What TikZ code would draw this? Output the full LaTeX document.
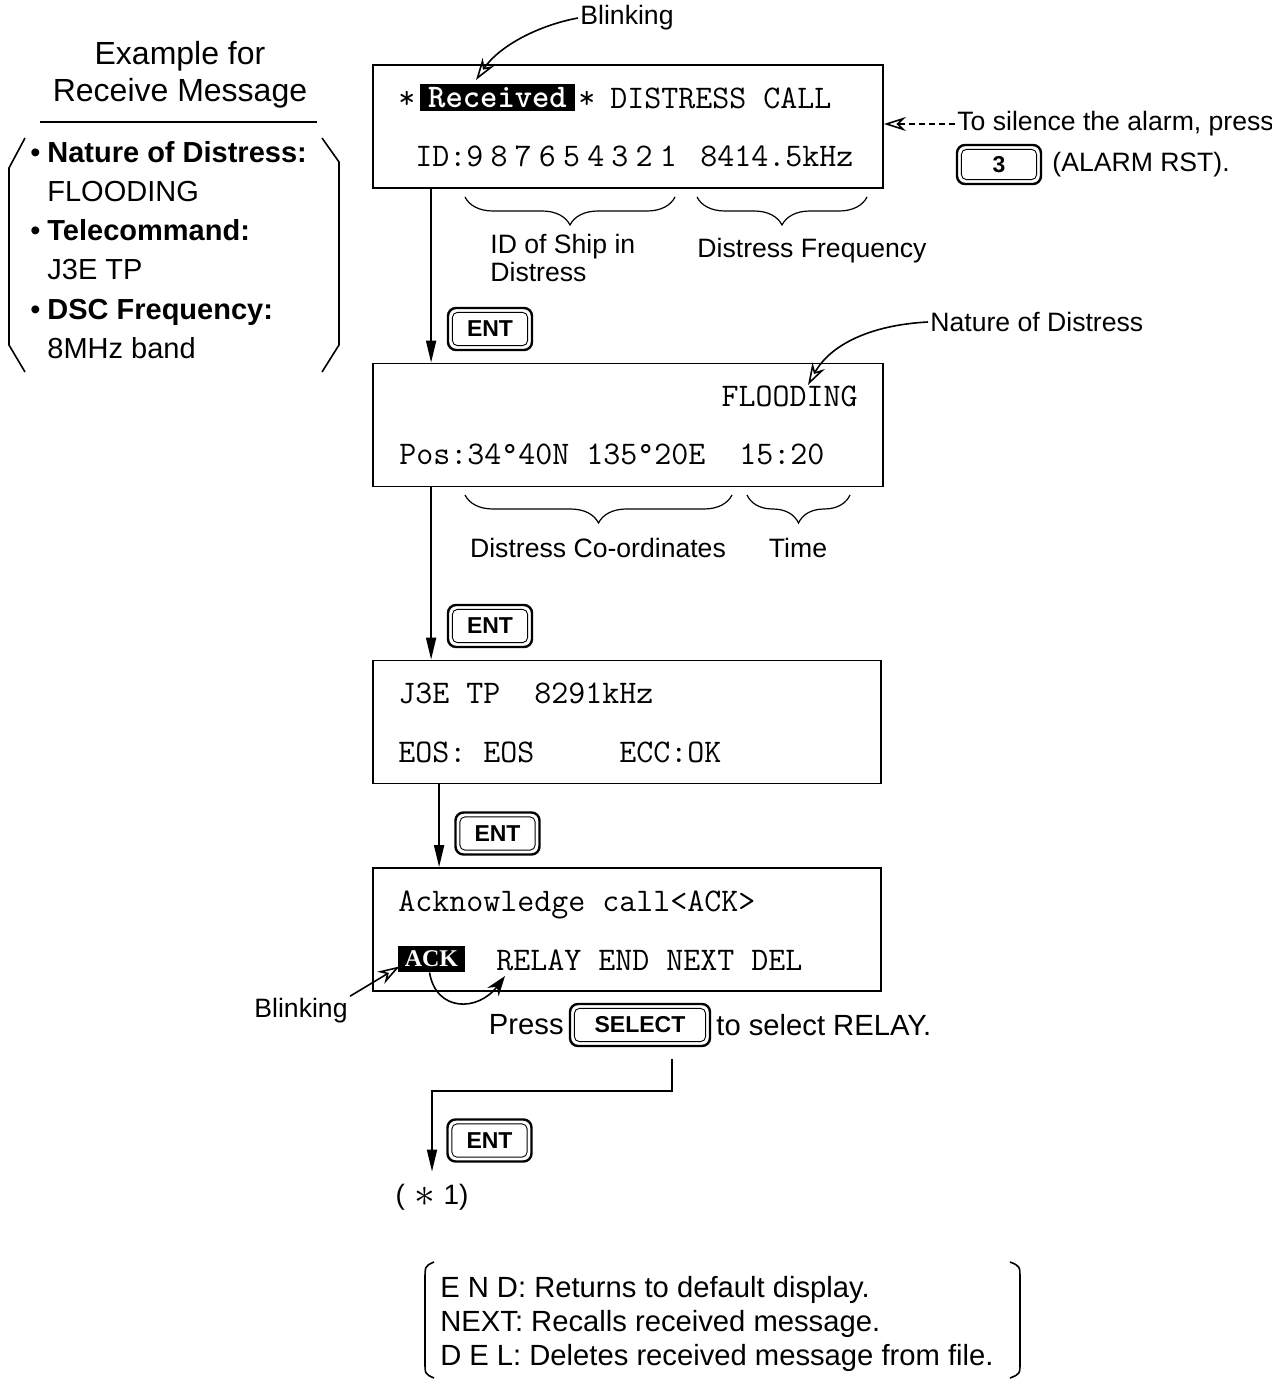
\documentclass[tikz,border=0pt]{standalone}
\usepackage{fontspec}
\setmainfont{Liberation Sans}
\newfontfamily\serifbf{Liberation Serif}
\newfontfamily\lcdbold{lmmonolt10-bold.otf}
\usepackage{tikz}
\usetikzlibrary{arrows.meta,decorations.pathreplacing}
\newcommand{\dgap}{\hspace{3.6pt}}
\newcommand{\lgap}{\hspace{4pt}}

\begin{document}
\begin{tikzpicture}
        [x=0.5pt,y=-0.5pt]
        \tikzstyle{lcd}=[draw, line width=0.9pt, minimum width=255pt,
        minimum height=61.5pt, inner sep=0pt]
        \tikzstyle{lcdtxt}=[inner sep=0pt, anchor=base west,
        font=\fontsize{16.5}{18}\ttfamily]
        \tikzstyle{hilite}=[fill=black, text=white, inner sep=0pt]
        \tikzstyle{key}=[draw, line width=1.2pt, rounded corners=4pt,
        minimum width=42pt, minimum height=21pt, inner sep=0pt,
        font=\fontsize{11.5}{12}\bfseries,
        path picture={\draw[line width=0.45pt, rounded corners=2.5pt]
          ([shift={(2.2pt,2.2pt)}]path picture bounding box.south west) rectangle
          ([shift={(-2.2pt,-2.2pt)}]path picture bounding box.north east);}]
        \tikzstyle{note}=[inner sep=1pt, font=\fontsize{13.3}{14}\selectfont]
        \tikzstyle{flow}=[line width=0.9pt, -{Triangle[length=11pt,width=5pt]}]
        \tikzstyle{point}=[line width=0.8pt, -{Stealth[open,length=11pt,width=7pt]}]
        \tikzstyle{cbrace}=[line width=0.6pt, decorate,
        decoration={brace, mirror, amplitude=14pt}]

        \useasboundingbox (0,0) rectangle (1272,1379);

        %-----example box
        \node[font=\fontsize{16}{18.5}\selectfont, align=center] (title) at (180,75)
          {Example for\\Receive Message};
        \draw[line width=1pt] (40,122) -- (317,122);
        \node[anchor=west, align=left, inner sep=0pt,
          font=\fontsize{14.5}{19.6}\selectfont] (items) at (30,250)
          {\makebox[8.5pt][l]{\textbullet}\textbf{Nature of Distress:}\\
           \hspace{8.5pt}FLOODING\\
           \makebox[8.5pt][l]{\textbullet}\textbf{Telecommand:}\\
           \hspace{8.5pt}J3E TP\\
           \makebox[8.5pt][l]{\textbullet}\textbf{DSC Frequency:}\\
           \hspace{8.5pt}8MHz band};
        \draw[line width=0.8pt] (25,138) -- (9,168) -- (9,345) -- (25,372);
        \draw[line width=0.8pt] (322,138) -- (339,162) -- (339,345) -- (322,372);

        %-----displays
        \node[lcd] (d1) at (628,126.5) {};
        \node[lcd] (d2) at (628,425) {};
        \node[lcd, minimum width=254pt] (d3) at (627,722) {};
        \node[lcd, minimum width=254pt] (d4) at (627,929.5) {};

        \node[lcdtxt] (st1) at (398,109) {*};
        \node[hilite, minimum width=77.5pt, minimum height=13.5pt,
          font=\fontsize{16.5}{18}\lcdbold] (recv) at (497.5,97.5) {Received};
        \node[lcdtxt] (st2) at (578,109) {*};
        \node[lcdtxt] (call) at (610,109) {DISTRESS CALL};
        \node[lcdtxt] (id) at (415,167) {ID:9\dgap8\dgap7\dgap6\dgap5\dgap4\dgap3\dgap2\dgap1};
        \node[lcdtxt] (freq) at (700,167) {8414.5kHz};

        \node[lcdtxt, anchor=base east] (flood) at (858,407) {FLOODING};
        \node[lcdtxt] (pos) at (399,465) {Pos:34°40N 135°20E~~15:20};

        \node[lcdtxt] (mode) at (398,703) {J3E TP~~8291kHz};
        \node[lcdtxt] (eos) at (398,762) {EOS:~EOS~~~~~ECC:OK};

        \node[lcdtxt] (ackq) at (398,911) {Acknowledge call<ACK>};
        \node[hilite, minimum width=33.5pt, minimum height=13pt,
          font=\fontsize{12}{12}\serifbf\bfseries] (ack) at (431.5,959) {ACK};
        \node[lcdtxt] (menu) at (496,970) {RELAY END NEXT DEL};

        %-----keys
        \node[key] (ent1) at (490,329) {ENT};
        \node[key] (ent2) at (490,626) {ENT};
        \node[key] (ent3) at (497.5,833.5) {ENT};
        \node[key] (ent4) at (489.5,1140.5) {ENT};
        \node[key, minimum height=19.5pt] (k3) at (999,164.5) {3};
        \node[key, minimum width=70pt] (sel) at (640,1025) {SELECT};

        %-----notes
        \node[note, anchor=west] (silence) at (955,124) {To silence the alarm, press};
        \node[note, anchor=west] (rst) at (1050,165) {(ALARM RST).};
        \node[note] (blink1) at (627,18) {Blinking};
        \node[note, anchor=west] (nat) at (928,322) {Nature of Distress};
        \node[note, align=left, anchor=west] (shipid) at (488,258) {ID of Ship in\\Distress};
        \node[note] (dfreq) at (812,251) {Distress Frequency};
        \node[note] (coord) at (598,548) {Distress Co-ordinates};
        \node[note] (time) at (798,548) {Time};
        \node[note] (blink2) at (301,1011) {Blinking};
        \node[note, anchor=east, font=\fontsize{14.6}{16}\selectfont] (press) at (566,1025) {Press};
        \node[note, anchor=west, font=\fontsize{14.6}{16}\selectfont] (tosel) at (714,1025) {to select RELAY.};
        \node[note, font=\fontsize{14}{16}\selectfont] (res) at (432,1197)
          {(\hspace{5pt}\raisebox{-1pt}{\fontsize{20}{20}\selectfont$\ast$}\hspace{4pt}1)};

        \node[anchor=west, align=left, inner sep=0pt,
          font=\fontsize{14.6}{17}\selectfont] (legend) at (440,1324)
          {E\lgap N\lgap D: Returns to default display.\\
           NEXT: Recalls received message.\\
           D\lgap E\lgap L: Deletes received message from file.};
        \draw[line width=0.8pt] (434,1262) .. controls (425,1266) .. (425,1280) -- (425,1362)
          .. controls (425,1374) .. (434,1378);
        \draw[line width=0.8pt] (1010,1262) .. controls (1020,1266) .. (1020,1280) -- (1020,1362)
          .. controls (1020,1374) .. (1010,1378);

        %-----braces
        \draw[cbrace] (465,197) -- (675,197);
        \draw[cbrace] (697,197) -- (867,197);
        \draw[cbrace] (465,495) -- (732,495);
        \draw[cbrace] (747,495) -- (850,495);

        %-----flow
        \foreach \from/\to/\dx in {d1/d2/29.5pt,d2/d3/29.5pt,d3/d4/33.5pt}
        \draw[flow] ([xshift=\dx]\from.south west) -- ([xshift=\dx]\to.north west);
        \draw[flow] ([xshift=16pt,yshift=-6pt]sel.south) -- ++(0,32) -| ([yshift=5pt]res.north);

        \coordinate (recvTip) at (476,80);
        \coordinate (natTip) at (808,385);
        \coordinate (relayTip) at (505,976);
        \draw[point] (blink1.west) .. controls (540,25) and (500,45) .. (recvTip);
        \draw[point] (nat.west) .. controls (870,325) and (830,345) .. (natTip);
        \draw[point, dash pattern=on 3pt off 2pt] (silence.west) -- (silence.west -| d1.east);
        \draw[point] (blink2.north east) -- ([shift={(1pt,3pt)}]ack.south west);
        \draw[line width=0.8pt, -{Stealth[length=10pt,width=7pt]}] ([xshift=-1pt]ack.south)
          .. controls (436,1012) and (478,1012) .. (relayTip);

    % ENT after RELAY goes on to (*1)
\end{tikzpicture}
\end{document}
